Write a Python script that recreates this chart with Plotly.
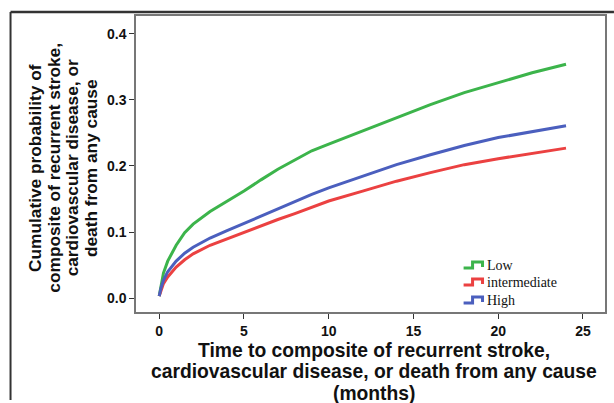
import plotly.graph_objects as go

months = [0, 0.1, 0.25, 0.5, 1, 1.5, 2, 3, 4, 5, 6, 7, 8, 9, 10, 12, 14, 16, 18, 20, 22, 24]
low = [0.003, 0.020, 0.038, 0.056, 0.080, 0.099, 0.112, 0.131, 0.146, 0.162, 0.179, 0.195,
       0.209, 0.223, 0.233, 0.253, 0.273, 0.293, 0.311, 0.326, 0.341, 0.354]
intermediate = [0.003, 0.012, 0.022, 0.032, 0.047, 0.058, 0.067, 0.080, 0.090, 0.100, 0.109,
                0.119, 0.128, 0.138, 0.147, 0.162, 0.177, 0.190, 0.202, 0.211, 0.219, 0.227]
high = [0.003, 0.015, 0.027, 0.040, 0.056, 0.068, 0.077, 0.091, 0.102, 0.113, 0.125, 0.136,
        0.146, 0.157, 0.167, 0.185, 0.202, 0.217, 0.231, 0.243, 0.252, 0.261]

series_names = ["Low", "intermediate", "High"]
series_values = [low, intermediate, high]
colors = ["rgb(60,180,75)", "rgb(235,65,65)", "rgb(75,95,190)"]

x_ticks = [0, 5, 10, 15, 20, 25]
y_ticks = [0.0, 0.1, 0.2, 0.3, 0.4]
y_tick_labels = ["0.0", "0.1", "0.2", "0.3", "0.4"]

y_title_lines = ["Cumulative probability of", "composite of recurrent stroke,",
                 "cardiovascular disease, or", "death from any cause"]
x_title_lines = ["Time to composite of recurrent stroke,",
                 "cardiovascular disease, or death from any cause", "(months)"]

W, H = 614, 403
ML, MR, MT, MB = 136, 7, 16, 91
PW, PH = W - ML - MR, H - MT - MB


def px(x):
    return (x - ML) / PW


def py(y):
    return (H - MB - y) / PH


fig = go.Figure()
for name, vals, col in zip(series_names, series_values, colors):
    fig.add_trace(go.Scatter(x=months, y=vals, mode="lines", name=name,
                             line=dict(color=col, width=3), showlegend=False,
                             hoverinfo="skip"))

axis_font = dict(family="Liberation Sans, Arial", size=14, color="#111", weight="bold")

annotations = []
for i, line in enumerate(y_title_lines):
    annotations.append(dict(text=line, xref="paper", yref="paper", x=px(34.5 + 18.8 * i),
                            y=py(168), textangle=-90, showarrow=False,
                            xanchor="center", yanchor="middle",
                            font=dict(family="Liberation Sans, Arial", size=17.3,
                                      color="#111", weight="bold")))
for i, line in enumerate(x_title_lines):
    annotations.append(dict(text=line, xref="paper", yref="paper", x=px(375),
                            y=py(350 + 21.5 * i), showarrow=False,
                            xanchor="center", yanchor="middle",
                            font=dict(family="Liberation Sans, Arial", size=19.3,
                                      color="#111", weight="bold")))

shapes = [
    dict(type="line", xref="paper", yref="paper", x0=px(10), x1=px(616), y0=py(12), y1=py(12),
         line=dict(color="#333", width=2.5)),
    dict(type="line", xref="paper", yref="paper", x0=px(10), x1=px(10), y0=py(12), y1=py(400),
         line=dict(color="#333", width=2)),
]

# custom legend with step-shaped symbols
legend_rows = [265, 282, 300]
for name, col, yc in zip(series_names, colors, legend_rows):
    pts = [(465, yc + 3), (474, yc + 3), (474, yc - 3), (484, yc - 3), (484, yc + 2)]
    path = "M " + " L ".join(f"{px(a):.5f},{py(b):.5f}" for a, b in pts)
    shapes.append(dict(type="path", xref="paper", yref="paper", path=path,
                       line=dict(color=col, width=3)))
    annotations.append(dict(text=name, xref="paper", yref="paper", x=px(486), y=py(yc),
                            showarrow=False, xanchor="left", yanchor="middle",
                            font=dict(family="Liberation Serif, Times New Roman", size=14,
                                      color="#111")))

fig.update_layout(
    width=W, height=H,
    margin=dict(l=ML, r=MR, t=MT, b=MB),
    paper_bgcolor="white", plot_bgcolor="white",
    showlegend=False,
    hovermode=False,
    xaxis=dict(range=[-1.37, 26.3], tickvals=x_ticks, ticks="outside", ticklen=5,
               tickcolor="#333", showgrid=False, zeroline=False, showline=True,
               linecolor="#777", linewidth=1.5, mirror=True, tickfont=axis_font),
    yaxis=dict(range=[-0.021, 0.427], tickvals=y_ticks, ticktext=y_tick_labels,
               ticks="outside", ticklen=5, tickcolor="#333", showgrid=False,
               zeroline=False, showline=True, linecolor="#777", linewidth=1.5,
               mirror=True, tickfont=axis_font),
    annotations=annotations,
    shapes=shapes,
)

fig.write_html("out.html", config={"displayModeBar": False},
               post_script="document.body.style.margin='0px';")
